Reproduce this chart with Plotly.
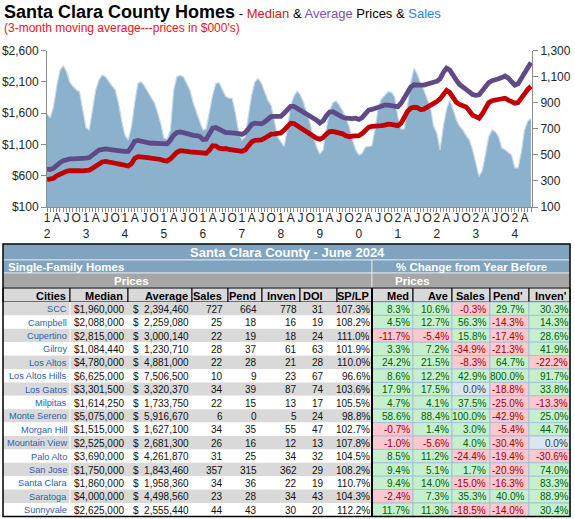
import plotly.graph_objects as go

W, H = 575, 519

# ---- chart data (3-month moving averages, Jan 2012 .. Jun 2024) ----
median_k = [
    536, 540, 560, 600, 630, 655, 670, 680, 685, 685, 680, 678,
    675, 690, 720, 755, 790, 820, 830, 825, 815, 800, 790, 780,
    768, 755, 790, 880, 905, 905, 900, 890, 880, 875, 870, 860,
    840, 835, 870, 930, 975, 1000, 1000, 990, 980, 975, 965, 955,
    950, 960, 1010, 1080, 1075, 1040, 1030, 1035, 1020, 1015, 1010, 1000,
    990, 1010, 1070, 1140, 1165, 1170, 1175, 1200, 1235, 1265, 1270, 1270,
    1285, 1330, 1400, 1440, 1435, 1400, 1365, 1330, 1290, 1260, 1230, 1200,
    1185, 1210, 1265, 1305, 1310, 1300, 1295, 1270, 1240, 1225, 1235, 1240,
    1240, 1275, 1330, 1375, 1390, 1390, 1395, 1400, 1410, 1425, 1420, 1410,
    1400, 1440, 1540, 1630, 1680, 1695, 1690, 1660, 1665, 1690, 1720, 1755,
    1785, 1830, 1900, 1965, 1930, 1850, 1775, 1740, 1720, 1700, 1640, 1570,
    1545, 1520, 1590, 1690, 1770, 1800, 1810, 1820, 1835, 1840, 1810, 1780,
    1760, 1770, 1830, 1910, 1980, 2030,
]
average_k = [
    706, 700, 720, 770, 810, 840, 860, 870, 870, 868, 870, 875,
    880, 890, 920, 970, 1010, 1030, 1030, 1020, 1010, 1005, 1000, 995,
    990, 990, 1060, 1150, 1165, 1150, 1135, 1125, 1120, 1120, 1115, 1110,
    1105, 1110, 1170, 1250, 1290, 1300, 1290, 1270, 1255, 1245, 1240, 1230,
    1180, 1185, 1270, 1360, 1370, 1340, 1300, 1290, 1290, 1290, 1285, 1275,
    1262, 1290, 1350, 1420, 1440, 1430, 1430, 1460, 1510, 1545, 1550, 1545,
    1550, 1600, 1670, 1710, 1710, 1680, 1655, 1620, 1580, 1550, 1530, 1490,
    1445, 1480, 1560, 1620, 1625, 1590, 1555, 1535, 1520, 1510, 1515, 1520,
    1500, 1530, 1590, 1650, 1660, 1680, 1710, 1720, 1730, 1730, 1720, 1715,
    1705, 1760, 1860, 1950, 2020, 2055, 2060, 2050, 2050, 2060, 2080, 2095,
    2110, 2150, 2250, 2320, 2290, 2200, 2130, 2060, 2010, 1980, 1940, 1900,
    1885, 1895, 1960, 2030, 2090, 2120, 2130, 2150, 2170, 2195, 2160, 2090,
    2050, 2070, 2150, 2250, 2340, 2410,
]
sales_n = [
    815, 785, 870, 1030, 1150, 1185, 1140, 1060, 1025, 1000, 985, 860,
    710, 692, 860, 1000, 1075, 1114, 1100, 1060, 1030, 1000, 900, 760,
    650, 616, 718, 900, 1050, 1062, 1030, 986, 945, 903, 830, 743,
    630, 620, 692, 999, 1101, 1110, 1101, 1050, 999, 900, 833, 760,
    690, 700, 820, 960, 1050, 1055, 1000, 950, 935, 935, 820, 680,
    616, 640, 800, 960, 1060, 1088, 1050, 980, 920, 880, 760, 640,
    600, 565, 700, 880, 950, 990, 960, 900, 820, 740, 640, 560,
    505, 540, 700, 840, 900, 915, 880, 840, 780, 720, 620, 540,
    500, 510, 560, 565, 570, 700, 870, 930, 960, 985, 980, 948,
    794, 698, 700, 871, 1060, 1165, 1120, 1050, 999, 930, 871, 720,
    667, 539, 718, 850, 922, 850, 769, 720, 692, 650, 616, 540,
    437, 335, 380, 500, 641, 692, 680, 640, 552, 539, 520, 500,
    400, 400, 520, 692, 760, 780,
]
months = list(range(len(sales_n)))
years = list(range(2012, 2025))
quarter_labels = ["A", "J", "O"]

tick_vals, tick_text = [], []
for m in range(0, len(months), 3):
    q = (m % 12) // 3
    yr = str(years[m // 12])
    tick_vals.append(m)
    tick_text.append(yr[2] + "<br>" + yr[3] if q == 0 else quarter_labels[q - 1])

# ---- table data ----
cities = ["SCC", "Campbell", "Cupertino", "Gilroy", "Los Altos", "Los Altos Hills",
          "Los Gatos", "Milpitas", "Monte Sereno", "Morgan Hill", "Mountain View",
          "Palo Alto", "San Jose", "Santa Clara", "Saratoga", "Sunnyvale"]
median_price = [1960000, 2088000, 2815000, 1084440, 4780000, 6625000, 3301500, 1614250,
                5075000, 1515000, 2525000, 3690000, 1750000, 1860000, 4000000, 2625000]
average_price = [2394460, 2259080, 3000140, 1230710, 4881000, 7506500, 3320370, 1733750,
                 5916670, 1627100, 2681300, 4261870, 1843460, 1958360, 4498560, 2555440]
sales = [727, 25, 22, 28, 22, 10, 34, 22, 6, 34, 26, 31, 357, 34, 23, 44]
pend = [664, 18, 19, 37, 28, 9, 39, 15, 0, 35, 16, 25, 315, 36, 28, 43]
inven = [778, 16, 18, 61, 21, 23, 87, 13, 5, 55, 12, 34, 362, 22, 34, 30]
doi = [31, 19, 24, 63, 28, 67, 74, 17, 24, 47, 13, 32, 29, 19, 43, 20]
sp_lp = [107.3, 108.2, 111.0, 101.9, 110.0, 96.6, 103.6, 105.5, 98.8, 102.7, 107.8,
         104.5, 108.2, 110.7, 104.3, 112.2]
chg_med = [8.3, 4.5, -11.7, 3.3, 24.2, 8.6, 17.9, 4.7, 58.6, -0.7, -1.0, 8.5, 9.4, 9.4, -2.4, 11.7]
chg_ave = [10.6, 12.7, -5.4, 7.2, 21.5, 12.2, 17.5, 4.1, 88.4, 1.4, -5.6, 11.2, 5.1, 14.0, 7.3, 11.3]
chg_sales = [-0.3, 56.3, 15.8, -34.9, -8.3, 42.9, 0.0, 37.5, 100.0, 3.0, 4.0, -24.4, 1.7,
             -15.0, 35.3, -18.5]
chg_pend = [29.7, -14.3, -17.4, -21.3, 64.7, 800.0, -18.8, -25.0, -42.9, -5.4, -30.4,
            -19.4, -20.9, -16.3, 40.0, -14.0]
chg_inven = [30.3, 14.3, 28.6, 41.9, -22.2, 91.7, 33.8, -13.3, 25.0, 44.7, 0.0, -30.6,
             74.0, 83.3, 88.9, 30.4]
headers = ["Cities", "Median", "Average", "Sales", "Pend", "Inven", "DOI", "SP/LP",
           "Med", "Ave", "Sales", "Pend'", "Inven'"]

RED = "#c00000"
PURPLE = "#5f4a86"
AREA = "#8cb1cd"


def px_x(x):
    return x / W


def px_y(y):
    return 1 - y / H


fig = go.Figure()

fig.add_trace(go.Scatter(
    x=months, y=sales_n, mode="lines", fill="tozeroy",
    line=dict(color="#c9dbe9", width=1.2), fillcolor=AREA,
    xaxis="x", yaxis="y", hoverinfo="skip"))
fig.add_trace(go.Scatter(
    x=months, y=average_k, mode="lines", line=dict(color=PURPLE, width=4.8),
    xaxis="x", yaxis="y2"))
fig.add_trace(go.Scatter(
    x=months, y=median_k, mode="lines", line=dict(color=RED, width=4.8),
    xaxis="x", yaxis="y2"))

# ---- table, drawn as cell rectangles and texts ----
shapes = []
annotations = []

col_edges = [3, 70, 128, 192, 228, 262, 300, 337, 372, 413, 452, 490, 529, 570]
right_pad = [2, 3, 2, 4, 4, 2, 12, 1, 2, 2, 3, 4, 1]
table_top = 244
header_top, header_bot = 288, 302
row_h = 13.4
nrow = len(cities)


def rect(x0, x1, y0, y1, fill, line_col=None, lw=0.8):
    shapes.append(dict(type="rect", xref="paper", yref="paper", layer="above",
                       x0=px_x(x0), x1=px_x(x1), y0=px_y(y1), y1=px_y(y0),
                       fillcolor=fill,
                       line=dict(color=line_col or fill, width=lw if line_col else 0)))


def text(t, x, y, size, color, anchor="right", bold=False):
    annotations.append(dict(text="<b>" + t + "</b>" if bold else t,
                            x=px_x(x), y=px_y(y), xref="paper", yref="paper",
                            xanchor=anchor, yanchor="middle", showarrow=False,
                            borderpad=0,
                            font=dict(family="Arial", size=size, color=color)))


def pct_style(v):
    if v == 0:
        return "#dce6f1", "#2f3f2f"
    return ("#c6efce", "#006100") if v > 0 else ("#ffc7ce", "#9c0006")


pct_cols = [chg_med, chg_ave, chg_sales, chg_pend, chg_inven]
left_cols = [
    cities,
    ["$" + f"{v:,}" for v in median_price],
    ["$\u00a0\u00a0" + f"{v:,}" for v in average_price],
    [str(v) for v in sales],
    [str(v) for v in pend],
    [str(v) for v in inven],
    [str(v) for v in doi],
    [f"{v:.1f}%" for v in sp_lp],
]

# merged title rows
for y0, y1, x0, x1, c in [(table_top, 260, 3, 570, "#80a4c0"),
                          (260, 273, 3, 372, "#80a4c0"),
                          (260, 273, 372, 570, "#80a4c0"),
                          (273, 288, 3, 372, "#a6a6a6"),
                          (273, 288, 372, 570, "#a6a6a6")]:
    rect(x0, x1, y0, y1, c, "#e8eef3")

text("Santa Clara County - June 2024", 287, 252.5, 13, "white", "center", True)
text("Single-Family Homes", 7, 266.5, 11.5, "white", "left", True)
text("% Change from Year Before", 471, 266.5, 11.5, "white", "center", True)
text("Prices", 131, 280.5, 11.5, "white", "center", True)
text("Prices", 412, 280.5, 11.5, "white", "center", True)

# header row
for j, h in enumerate(headers):
    rect(col_edges[j], col_edges[j + 1], header_top, header_bot, "#d9d9d9", "black", 1)
    text(h, col_edges[j + 1] - right_pad[j] - 1, (header_top + header_bot) / 2 + 0.5,
         11, "black", "right", True)

# body rows
for i in range(nrow):
    y0 = header_bot + i * row_h
    y1 = y0 + row_h
    yc = (y0 + y1) / 2 + 0.5
    zebra = "#d9d9d9" if i % 2 == 0 else "white"
    rect(col_edges[0], col_edges[8], y0, y1, zebra)
    for j, col in enumerate(left_cols):
        size = 9.2 if j == 0 else 10
        color = "#2b62b0" if j == 0 else "#111111"
        text(col[i], col_edges[j + 1] - right_pad[j], yc, size, color)
    for k, col in enumerate(pct_cols):
        j = 8 + k
        fill, fcol = pct_style(col[i])
        rect(col_edges[j], col_edges[j + 1], y0, y1, fill, "#9dbbdc", 0.8)
        text(f"{col[i]:.1f}%", col_edges[j + 1] - right_pad[j], yc, 10, fcol)

body_bot = header_bot + nrow * row_h
shapes.append(dict(type="line", xref="paper", yref="paper", layer="above",
                   x0=px_x(70), x1=px_x(70), y0=px_y(body_bot), y1=px_y(header_bot),
                   line=dict(color="white", width=1)))
shapes.append(dict(type="line", xref="paper", yref="paper", layer="above",
                   x0=px_x(372), x1=px_x(372), y0=px_y(body_bot), y1=px_y(288),
                   line=dict(color="black", width=2)))
shapes.append(dict(type="rect", xref="paper", yref="paper", layer="above",
                   x0=px_x(3), x1=px_x(570), y0=px_y(body_bot), y1=px_y(table_top),
                   line=dict(color="black", width=1.5)))

# chart titles
annotations.append(dict(
    text="<b>Santa Clara County Homes</b><span style='font-size:13px'> - "
         "<span style='color:#d9161e'>Median</span> &amp; "
         "<span style='color:#7b52a8'>Average</span> Prices &amp; "
         "<span style='color:#2a7fd4'>Sales</span></span>",
    x=px_x(3), y=px_y(12), xref="paper", yref="paper", xanchor="left", yanchor="middle",
    showarrow=False, borderpad=0, font=dict(family="Arial", size=18, color="black")))
annotations.append(dict(
    text="(3-month moving average---prices in $000's)",
    x=px_x(3), y=px_y(28.5), xref="paper", yref="paper", xanchor="left", yanchor="middle",
    showarrow=False, borderpad=0, font=dict(family="Arial", size=12, color="#e8141c")))

axis_col = "#8c8c8c"
fig.update_layout(
    width=W, height=H, margin=dict(l=0, r=0, t=0, b=0, autoexpand=False),
    paper_bgcolor="white", plot_bgcolor="rgba(0,0,0,0)", showlegend=False,
    font=dict(family="Arial", color="#262626"),
    xaxis=dict(domain=[px_x(47), px_x(532)], range=[0, 149.3], anchor="y",
               automargin=False,
               tickvals=tick_vals, ticktext=tick_text, tickangle=0,
               ticks="outside", ticklen=4, tickcolor=axis_col, ticklabelstandoff=-4,
               minor=dict(dtick=1, tick0=0, ticks="outside", ticklen=4, tickcolor=axis_col),
               showline=True, linecolor=axis_col, showgrid=False, zeroline=False,
               tickfont=dict(size=12)),
    yaxis=dict(domain=[px_y(207), px_y(50.7)], range=[100, 1300], side="right",
               anchor="x", automargin=False, tick0=100, dtick=200, tickformat=",",
               ticks="outside", ticklen=5, tickcolor=axis_col, showline=True,
               linecolor=axis_col, showgrid=False, zeroline=False, tickfont=dict(size=12)),
    yaxis2=dict(overlaying="y", side="left", anchor="x", automargin=False,
                range=[100, 2600], tick0=100, dtick=500, tickprefix="$", tickformat=",",
                ticks="outside", ticklen=5, tickcolor=axis_col, showline=True,
                linecolor=axis_col, showgrid=False, zeroline=False, tickfont=dict(size=12)),
    shapes=shapes, annotations=annotations,
)

fig.write_html("out.html", config={"displayModeBar": False},
               post_script="document.documentElement.style.margin='0px';"
                           "document.body.style.margin='0px';"
                           "document.body.style.overflow='hidden';")
